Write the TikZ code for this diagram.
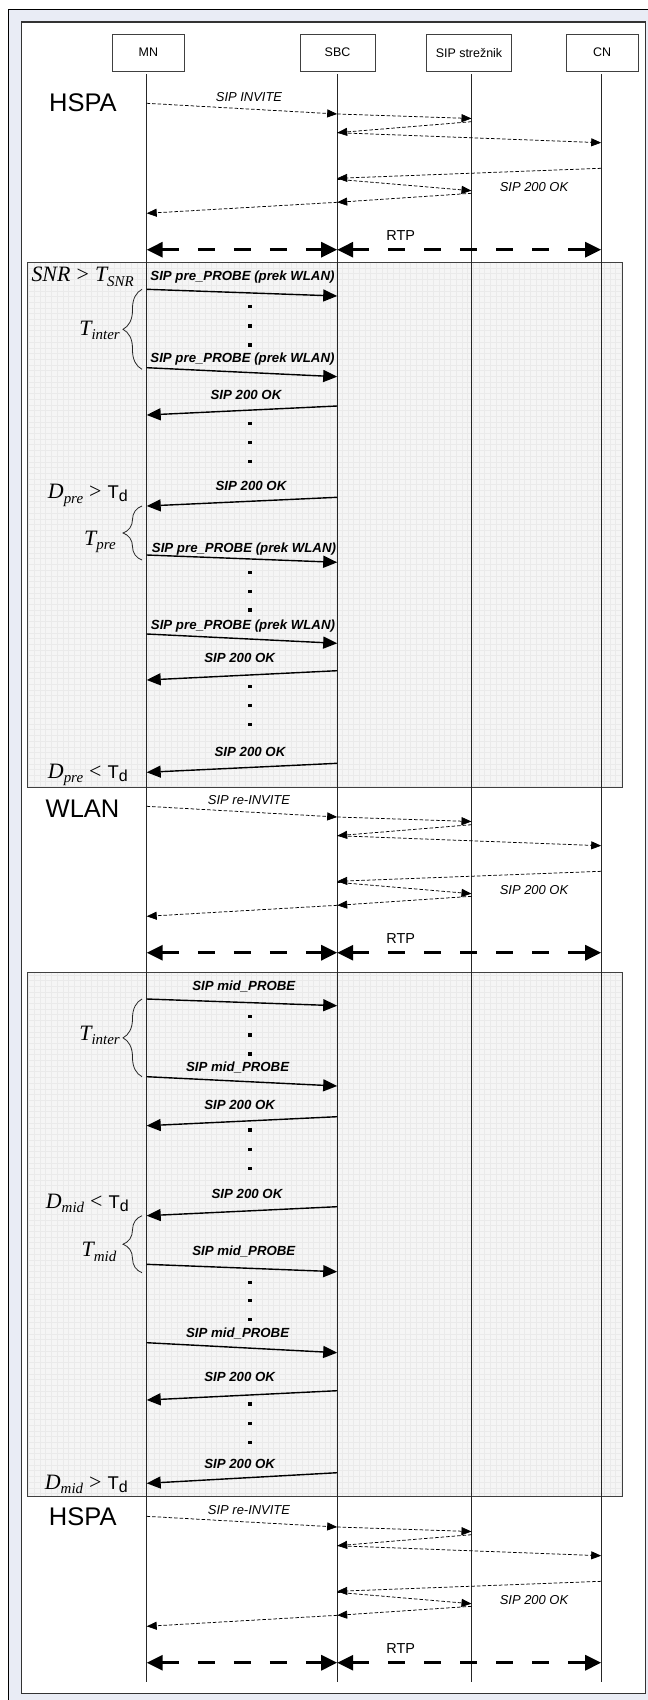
\documentclass[tikz,border=0pt]{standalone}
\usepackage{fontspec}
\setmainfont{Liberation Sans}
\newfontfamily\tnr{Liberation Serif}
\usetikzlibrary{arrows.meta,decorations.pathreplacing,calc}

\definecolor{outerc}{RGB}{233,236,245}
\definecolor{boxc}{RGB}{245,245,245}
\definecolor{gridc}{RGB}{234,234,234}
\newcounter{labn}

\newcommand\lab[4]{\stepcounter{labn}\node[#3] (lab\arabic{labn}) at (#1,#2) {#4};}
\newcommand\msg[5]{\draw[#5] (#1 |- 0,#2) -- (#3 |- 0,#4);}
\newcommand\pdots[1]{\foreach \yy in {#1} {\fill (248.3,\yy-1.7) rectangle (251.7,\yy+1.7);}}
\newcommand\tbrace[2]{\draw[brc] (142,#2) -- (142,#1);}
\newcommand\tm[1]{{\tnr\itshape #1}}
\newcommand\sbs[1]{\raisebox{-0.22em}{\fontsize{15}{15}\selectfont\tnr\itshape #1}}
\newcommand\tds{{\fontsize{18.5}{18.5}\selectfont T}\raisebox{-0.15em}{\fontsize{16}{16}\selectfont d}}

\newcommand\sigblock[5]{%
 \lab{#4}{#5+#1}{region}{#3}
 \lab{249}{101.7+#1}{slab}{#2}
 \msg{mn}{103.3+#1}{sbc}{114+#1}{sig}
 \msg{sbc}{114+#1}{sip}{118.5+#1}{sig}
 \msg{sip}{121.7+#1}{sbc}{132.7+#1}{sig}
 \msg{sbc}{132.7+#1}{cn}{142.7+#1}{sig}
 \msg{cn}{168.3+#1}{sbc}{178.3+#1}{sig}
 \msg{sbc}{179.3+#1}{sip}{190.7+#1}{sig}
 \msg{sip}{193.3+#1}{sbc}{202.3+#1}{sig}
 \msg{sbc}{202.3+#1}{mn}{213.3+#1}{sig}
 \lab{534}{191.7+#1}{slab}{SIP 200 OK}
 \lab{400.8}{240.7+#1}{rtplab}{RTP}
 \msg{mn}{249.7+#1}{sbc}{249.7+#1}{rtp}
 \msg{sbc}{249.7+#1}{cn}{249.7+#1}{rtp}
}

\begin{document}
\begin{tikzpicture}[x=1bp,y=-1bp,
  hdr/.style={draw=black!75, fill=white, line width=0.8bp, minimum height=36.7bp, inner sep=0pt, font=\fontsize{12.5}{12.5}\selectfont},
  life/.style={line width=0.8bp, black!85},
  sig/.style={line width=0.75bp, dash pattern=on 3.5bp off 2bp, -{Triangle[length=10bp,width=8bp]}},
  probe/.style={line width=1.4bp, -{Triangle[length=14bp,width=12bp]}},
  rtp/.style={line width=3bp, dash pattern=on 17bp off 19bp, {Triangle[length=16bp,width=15bp]}-{Triangle[length=16bp,width=15bp]}},
  slab/.style={anchor=base, inner sep=0pt, font=\fontsize{13}{13}\selectfont\itshape},
  blab/.style={anchor=base, inner sep=0pt, font=\fontsize{13.3}{13.3}\selectfont\bfseries\itshape},
  rtplab/.style={anchor=base, inner sep=0pt, font=\fontsize{14.5}{14.5}\selectfont},
  region/.style={anchor=base west, inner sep=0pt, font=\fontsize{25.6}{25.6}\selectfont},
  mlab/.style={anchor=base east, inner sep=0pt, font=\fontsize{22}{22}\selectfont},
  brc/.style={decorate, decoration={brace, amplitude=19bp, aspect=0.5}, line width=0.8bp, black!85},
  pbox/.style={draw=black!75, line width=1bp},
  gridl/.style={gridc, line width=0.35bp, step=5.7bp}
]
\useasboundingbox (0,0) rectangle (648,1700);
% frames
\path[fill=outerc, draw=black, line width=1bp] (8.3,9.3) rectangle (700,1750);
\path[fill=white, draw=black!80, line width=1.2bp] (21.3,22) rectangle (645.5,1693.5);
% shaded probe boxes
\fill[boxc] (27.7,262.5) rectangle (622.7,787.3);
\draw[gridl] (27.7,262.5) grid (622.7,787.3);
\draw[pbox] (27.7,262.5) rectangle (622.7,787.3);
\fill[boxc] (27.7,972.3) rectangle (622.7,1496.3);
\draw[gridl] (27.7,972.3) grid (622.7,1496.3);
\draw[pbox] (27.7,972.3) rectangle (622.7,1496.3);

% header boxes
\node[hdr, minimum width=72.7bp] (MNbox) at (148.4,52.7) {MN};
\node[hdr, minimum width=75bp] (SBCbox) at (337.5,52.7) {SBC};
\node[hdr, minimum width=85.2bp] (SIPbox) at (469,52.7) {SIP strežnik};
\node[hdr, minimum width=72.3bp] (CNbox) at (602.2,52.7) {CN};

% lifelines
\coordinate (mn) at (146.7,74.3);
\coordinate (sbc) at (337.2,74.3);
\coordinate (sip) at (471.5,74.3);
\coordinate (cn) at (601.2,74.3);
\coordinate (mnE) at (146.7,1681.7);
\coordinate (sbcE) at (337.2,1681.7);
\coordinate (sipE) at (471.5,1681.7);
\coordinate (cnE) at (601.2,1681.7);
\draw[life] (mn) -- (mnE);
\draw[life] (sbc) -- (sbcE);
\draw[life] (sip) -- (sipE);
\draw[life] (cn) -- (cnE);

% signalling blocks
\sigblock{0}{SIP INVITE}{HSPA}{49}{111}
\sigblock{703}{SIP re-INVITE}{WLAN}{45.5}{114}
\sigblock{1413}{SIP re-INVITE}{HSPA}{48.8}{112}

% probe box 1
\lab{134}{281.5}{mlab}{\tm{SNR} {\tnr >} \tm{T}\sbs{SNR}}
\lab{242.5}{280}{blab}{SIP pre\_PROBE (prek WLAN)}
\msg{mn}{289.3}{sbc}{296}{probe}
\pdots{306.7,326,345}
\tbrace{289.3}{369.3}
\lab{120}{335}{mlab}{\tm{T}\sbs{inter}}
\lab{242.5}{362.3}{blab}{SIP pre\_PROBE (prek WLAN)}
\msg{mn}{367.7}{sbc}{376.7}{probe}
\lab{246}{399.3}{blab}{SIP 200 OK}
\msg{sbc}{406}{mn}{415}{probe}
\pdots{423.3,442.7,461.7}
\lab{251}{490.3}{blab}{SIP 200 OK}
\msg{sbc}{497.3}{mn}{506}{probe}
\lab{128}{498.3}{mlab}{\tm{D}\sbs{pre} {\tnr >} \tds}
\tbrace{506}{560}
\lab{116}{545}{mlab}{\tm{T}\sbs{pre}}
\lab{244}{552.3}{blab}{SIP pre\_PROBE (prek WLAN)}
\msg{mn}{555}{sbc}{562.3}{probe}
\pdots{572.7,591.3,610}
\lab{243}{629}{blab}{SIP pre\_PROBE (prek WLAN)}
\msg{mn}{634}{sbc}{643.3}{probe}
\lab{239.7}{662.7}{blab}{SIP 200 OK}
\msg{sbc}{670.7}{mn}{680}{probe}
\pdots{686.7,705.7,724.7}
\lab{250}{756.7}{blab}{SIP 200 OK}
\msg{sbc}{763.3}{mn}{772.3}{probe}
\lab{128}{778}{mlab}{\tm{D}\sbs{pre} {\tnr <} \tds}

% probe box 2
\lab{243.8}{990}{blab}{SIP mid\_PROBE}
\msg{mn}{999}{sbc}{1005.7}{probe}
\pdots{1016.7,1035,1054}
\tbrace{999}{1076.7}
\lab{120}{1040}{mlab}{\tm{T}\sbs{inter}}
\lab{237.6}{1071.7}{blab}{SIP mid\_PROBE}
\msg{mn}{1076.7}{sbc}{1086}{probe}
\lab{239.7}{1109.3}{blab}{SIP 200 OK}
\msg{sbc}{1116.7}{mn}{1125.7}{probe}
\pdots{1130,1149.3,1168.3}
\lab{247}{1198.3}{blab}{SIP 200 OK}
\msg{sbc}{1206.7}{mn}{1215.7}{probe}
\lab{129}{1208}{mlab}{\tm{D}\sbs{mid} {\tnr <} \tds}
\tbrace{1215.7}{1272.7}
\lab{116.5}{1256.7}{mlab}{\tm{T}\sbs{mid}}
\lab{243.8}{1255.7}{blab}{SIP mid\_PROBE}
\msg{mn}{1264.3}{sbc}{1271.7}{probe}
\pdots{1282.7,1300.7,1319.3}
\lab{237.6}{1337.7}{blab}{SIP mid\_PROBE}
\msg{mn}{1342.7}{sbc}{1352.7}{probe}
\lab{239.7}{1381.7}{blab}{SIP 200 OK}
\msg{sbc}{1390.7}{mn}{1400}{probe}
\pdots{1404,1423.3,1442.3}
\lab{239.7}{1468.3}{blab}{SIP 200 OK}
\msg{sbc}{1472.7}{mn}{1483.3}{probe}
\lab{128}{1489}{mlab}{\tm{D}\sbs{mid} {\tnr >} \tds}
\end{tikzpicture}
\end{document}
